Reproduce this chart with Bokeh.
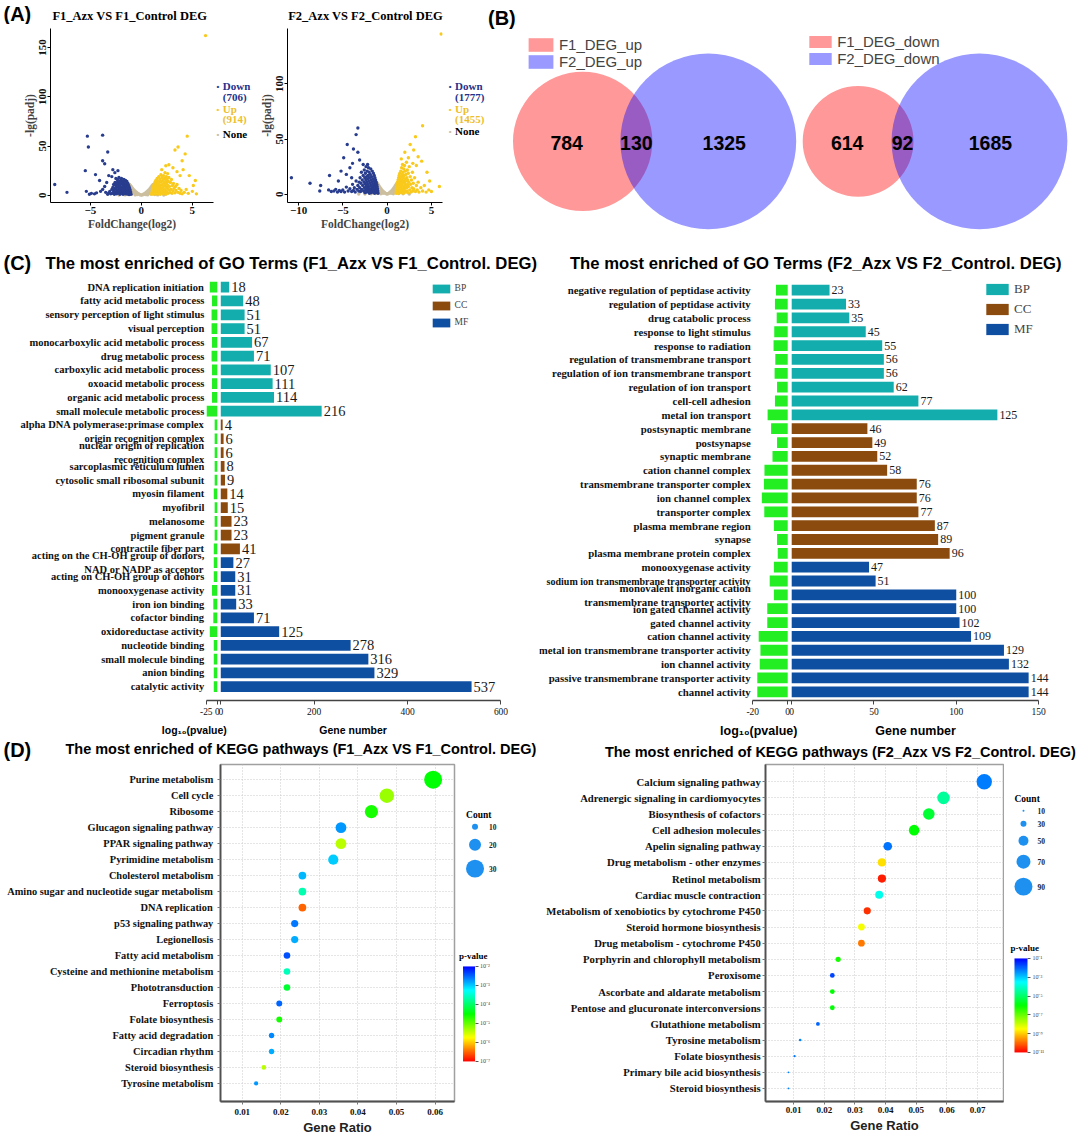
import math
from bokeh.plotting import figure
from bokeh.models import (Range1d, FixedTicker, Label, LabelSet, ColumnDataSource, Legend,
                          LegendItem, ColorBar, LinearColorMapper, LinearAxis, PrintfTickFormatter,
                          AllLabels)
from bokeh.layouts import column, row
from bokeh.embed import file_html
from bokeh.resources import INLINE
from bokeh.core.properties import value

# ======================= DATA =======================
# (A) volcano plots : (log2 fold change, -lg(padj))
F1_NONE = [(0, 0.2), (0.1, 0.4), (-0.1, 0.4), (0.15, 0.8), (-0.15, 0.8), (0.25, 1.3), (-0.25, 1.3),
           (0.35, 2), (-0.35, 2), (0.45, 2.8), (-0.45, 2.8), (0.55, 3.6), (-0.55, 3.6), (0.65, 4.6),
           (-0.65, 4.6), (0.75, 5.8), (-0.75, 5.8), (0.85, 7), (-0.85, 7), (0.95, 8.4), (-0.95, 8.4),
           (1.05, 9.8), (-1.05, 9.8), (1.15, 11), (-1.15, 11), (0.4, 0.8), (-0.4, 0.8), (0.6, 1.5),
           (-0.6, 1.5), (0.7, 2.6), (-0.7, 2.6), (0.8, 3.5), (-0.8, 3.5), (0.9, 4.8), (-0.9, 4.8),
           (1.0, 6), (-1.0, 6), (1.1, 7.5), (-1.1, 7.5), (0.6, 0.4), (-0.6, 0.4), (0.9, 1.2), (-0.9, 1.2),
           (1.1, 2.5), (-1.1, 2.5), (1.2, 4), (-1.2, 4), (1.3, 0.8), (-1.3, 0.8), (1.6, 0.4), (-1.6, 0.4),
           (2.2, 0.3), (-2.2, 0.3)]
F1_DOWN = [(-1.02, 1.0), (-1.05, 2.5), (-1.08, 4.0), (-1.10, 1.5), (-1.12, 6.0), (-1.15, 3.0), (-1.18, 8.0),
           (-1.20, 0.8), (-1.22, 5.0), (-1.25, 10.0), (-1.28, 2.0), (-1.30, 7.0), (-1.32, 12.0), (-1.35, 4.0),
           (-1.38, 9.0), (-1.40, 1.2), (-1.42, 14.0), (-1.45, 6.0), (-1.48, 11.0), (-1.50, 3.0), (-1.52, 8.0),
           (-1.55, 15.0), (-1.58, 1.5), (-1.60, 5.0), (-1.62, 10.0), (-1.65, 13.0), (-1.68, 2.5), (-1.70, 7.0),
           (-1.72, 16.0), (-1.75, 4.0), (-1.78, 11.0), (-1.80, 1.0), (-1.82, 9.0), (-1.85, 14.0), (-1.88, 6.0),
           (-1.90, 3.0), (-1.92, 12.0), (-1.95, 17.0), (-1.98, 8.0), (-2.00, 2.0), (-2.02, 5.0), (-2.05, 15.0),
           (-2.08, 10.0), (-2.10, 1.0), (-2.12, 13.0), (-2.15, 7.0), (-2.18, 3.5), (-2.20, 18.0), (-2.22, 11.0),
           (-2.25, 5.5), (-2.28, 9.0), (-2.30, 2.0), (-2.32, 14.0), (-2.35, 16.0), (-2.38, 4.0), (-2.40, 8.0),
           (-2.42, 12.0), (-2.45, 1.5), (-2.48, 6.0), (-2.50, 17.0), (-2.52, 10.0), (-2.55, 3.0), (-2.58, 13.0),
           (-2.60, 7.0), (-2.65, 1.0), (-2.70, 5.0), (-2.72, 11.0), (-2.75, 3.0), (-2.80, 8.0), (-2.85, 2.0),
           (-2.90, 6.0), (-3.00, 1.5), (-3.10, 4.0), (-3.20, 2.5), (-3.30, 1.0), (-3.50, 3.0),
           (-5.3, 60), (-3.8, 61), (-5.2, 49), (-3.3, 44), (-3.8, 35), (-3.6, 32), (-2.8, 26), (-2.3, 25),
           (-2.6, 23), (-5.5, 25), (-4.5, 21), (-3.2, 20), (-2.9, 19), (-7.3, 3), (-8.5, 11), (-5.4, 4),
           (-4.9, 2), (-4.4, 2.5), (-4.0, 4), (-3.8, 6), (-3.6, 9), (-4.1, 15), (-3.4, 13), (-4.6, 1.5), (-5.1, 1)]
F1_UP = [(1.02, 1), (1.05, 3), (1.08, 5), (1.1, 1.5), (1.12, 7), (1.15, 2.5), (1.18, 9), (1.2, 4), (1.22, 6),
         (1.25, 11), (1.28, 2), (1.3, 8), (1.32, 13), (1.35, 3.5), (1.38, 10), (1.4, 1), (1.42, 15), (1.45, 5),
         (1.48, 12), (1.5, 7), (1.52, 2.5), (1.55, 17), (1.58, 9), (1.6, 4), (1.62, 14), (1.65, 1.5), (1.68, 11),
         (1.7, 6), (1.72, 19), (1.75, 3), (1.78, 13), (1.8, 8), (1.82, 16), (1.85, 1), (1.88, 10), (1.9, 5),
         (1.92, 21), (1.95, 14), (1.98, 2.5), (2.0, 7), (2.02, 18), (2.05, 11), (2.08, 4), (2.1, 15), (2.12, 1.5),
         (2.15, 9), (2.18, 20), (2.2, 6), (2.22, 13), (2.25, 3), (2.28, 17), (2.3, 10), (2.32, 23), (2.35, 5),
         (2.38, 14), (2.4, 1), (2.42, 8), (2.45, 19), (2.48, 12), (2.5, 3.5), (2.52, 16), (2.55, 7), (2.58, 22),
         (2.6, 10), (2.62, 2), (2.65, 14), (2.68, 5.5), (2.7, 18), (2.75, 9), (2.8, 3), (2.85, 13), (2.9, 6),
         (2.95, 16), (3.0, 2), (3.05, 10), (3.1, 4.5), (3.15, 12), (3.2, 7), (3.3, 2.5), (3.35, 9), (3.4, 5),
         (3.5, 11), (3.6, 3), (3.7, 7), (3.8, 2), (3.9, 5), (4.0, 1.5), (4.2, 3), (4.4, 6), (4.6, 2), (5.0, 4),
         (5.4, 1.5), (4.5, 60), (3.6, 49), (3.3, 46), (4.3, 42), (2.7, 31), (3.1, 28), (6.3, 162), (5.3, 15),
         (4.7, 20), (5.1, 10), (4.0, 35), (2.4, 30), (2.0, 26), (3.5, 24), (3.8, 20), (4.1, 26)]
F2_NONE = [(0, 0.2), (0.1, 0.5), (-0.1, 0.5), (0.2, 1.0), (-0.2, 1.0), (0.3, 1.6), (-0.3, 1.6), (0.4, 2.3),
           (-0.4, 2.3), (0.5, 3.1), (-0.5, 3.1), (0.6, 4.0), (-0.6, 4.0), (0.7, 5.0), (-0.7, 5.0), (0.8, 6.2),
           (-0.8, 6.2), (0.9, 7.5), (-0.9, 7.5), (1.0, 8.8), (-1.0, 8.8), (1.1, 10), (-1.1, 10), (0.45, 0.9),
           (-0.45, 0.9), (0.65, 1.8), (-0.65, 1.8), (0.75, 2.8), (-0.75, 2.8), (0.85, 3.9), (-0.85, 3.9),
           (0.95, 5.2), (-0.95, 5.2), (1.05, 6.5), (-1.05, 6.5), (0.7, 0.5), (-0.7, 0.5), (0.95, 1.5),
           (-0.95, 1.5), (1.1, 3), (-1.1, 3), (1.3, 0.7), (-1.3, 0.7), (1.8, 0.4), (-1.8, 0.4), (2.5, 0.3),
           (-2.5, 0.3), (-3.2, 0.3)]
F2_DOWN = [(-1.02, 1), (-1.05, 3), (-1.08, 5), (-1.1, 1.5), (-1.12, 7), (-1.15, 2.5), (-1.18, 9), (-1.2, 4),
           (-1.22, 11), (-1.25, 6), (-1.28, 2), (-1.3, 13), (-1.32, 8), (-1.35, 3.5), (-1.38, 15), (-1.4, 10),
           (-1.42, 1), (-1.45, 17), (-1.48, 5), (-1.5, 12), (-1.52, 7), (-1.55, 19), (-1.58, 2.5), (-1.6, 14),
           (-1.62, 9), (-1.65, 4), (-1.68, 21), (-1.7, 11), (-1.72, 6), (-1.75, 16), (-1.78, 1.5), (-1.8, 13),
           (-1.82, 8), (-1.85, 23), (-1.88, 3), (-1.9, 18), (-1.92, 10), (-1.95, 5), (-1.98, 15), (-2.0, 1),
           (-2.02, 20), (-2.05, 12), (-2.08, 7), (-2.1, 24), (-2.12, 3.5), (-2.15, 17), (-2.18, 9), (-2.2, 14),
           (-2.22, 5.5), (-2.25, 21), (-2.28, 11), (-2.3, 2), (-2.32, 16), (-2.35, 7.5), (-2.38, 25), (-2.4, 13),
           (-2.42, 4), (-2.45, 19), (-2.48, 9.5), (-2.5, 1.5), (-2.52, 15), (-2.55, 6), (-2.58, 22), (-2.6, 11),
           (-2.65, 3), (-2.7, 17), (-2.75, 8), (-2.8, 13), (-2.85, 4.5), (-2.9, 20), (-2.95, 10), (-3.0, 2.5),
           (-3.05, 15), (-3.1, 6), (-3.15, 11), (-3.2, 3), (-3.3, 8), (-3.4, 4.5), (-3.5, 12), (-3.6, 2),
           (-3.7, 6), (-3.8, 3.5), (-3.9, 9), (-4.0, 2.5), (-4.2, 5), (-4.4, 3), (-4.6, 6.5), (-4.8, 2),
           (-5.0, 4), (-5.2, 2.5), (-5.4, 3.5), (-5.6, 2), (-5.8, 4.5), (-6.0, 3), (-6.3, 2.5), (-6.6, 4),
           (-10.8, 15), (-8.7, 10), (-7.5, 8), (-7.6, 3), (-6.5, 17), (-3.3, 60), (-3.5, 54), (-4.5, 45),
           (-3.8, 41), (-3.3, 38), (-4.9, 33), (-2.7, 27), (-5.2, 21), (-4.2, 24), (-3.9, 28), (-4.6, 18),
           (-5.5, 12), (-4.0, 15), (-2.2, 27), (-3.1, 31)]
F2_UP = [(1.02, 1), (1.04, 3), (1.06, 5), (1.08, 1.5), (1.1, 7), (1.12, 2.5), (1.14, 9), (1.16, 4), (1.18, 11),
         (1.2, 6), (1.22, 2), (1.24, 13), (1.26, 8), (1.28, 3.5), (1.3, 15), (1.32, 10), (1.34, 1), (1.36, 17),
         (1.38, 5), (1.4, 12), (1.42, 7), (1.44, 19), (1.46, 2.5), (1.48, 14), (1.5, 9), (1.52, 4), (1.54, 21),
         (1.56, 11), (1.58, 6), (1.6, 16), (1.62, 1.5), (1.64, 24), (1.66, 13), (1.68, 8), (1.7, 18), (1.72, 3),
         (1.74, 27), (1.76, 10), (1.78, 5), (1.8, 20), (1.82, 15), (1.84, 1), (1.86, 12), (1.88, 23), (1.9, 7),
         (1.92, 17), (1.94, 3.5), (1.96, 26), (1.98, 10), (2.0, 14), (2.02, 5.5), (2.05, 21), (2.08, 8), (2.1, 2),
         (2.12, 18), (2.15, 12), (2.18, 29), (2.2, 6), (2.22, 15), (2.25, 3), (2.28, 22), (2.3, 9), (2.32, 13),
         (2.35, 1.5), (2.38, 19), (2.4, 7), (2.45, 11), (2.5, 25), (2.55, 4), (2.6, 16), (2.65, 9), (2.7, 2),
         (2.75, 13), (2.8, 6), (2.85, 20), (2.9, 3), (2.95, 10), (3.0, 5), (3.1, 15), (3.2, 2.5), (3.3, 8),
         (3.4, 4), (3.5, 11), (3.6, 2), (3.8, 6), (4.0, 3), (4.2, 8), (4.4, 2), (4.7, 4), (5.0, 2.5),
         (4.0, 62), (3.2, 52), (2.6, 45), (3.0, 40), (2.0, 38), (3.5, 34), (2.4, 33), (4.5, 20), (5.9, 7),
         (6.1, 145), (3.9, 30), (1.6, 32), (2.9, 28), (4.8, 12), (3.3, 26)]
F1_DEG = {"Down": 706, "Up": 914}
F2_DEG = {"Down": 1777, "Up": 1455}
VOLC1_XTICKS = [-5, 0, 5]
VOLC2_XTICKS = [-10, -5, 0, 5]
VOLC_YTICKS = [0, 50, 100, 150]

# (B) Venn diagrams
VENN_UP = {"F1_only": 784, "both": 130, "F2_only": 1325}
VENN_DOWN = {"F1_only": 614, "both": 92, "F2_only": 1685}
VENN_UP_LABELS = ["F1_DEG_up", "F2_DEG_up"]
VENN_DOWN_LABELS = ["F1_DEG_down", "F2_DEG_down"]

# (C) GO terms
GO1_TERMS = ["DNA replication initiation", "fatty acid metabolic process", "sensory perception of light stimulus",
             "visual perception", "monocarboxylic acid metabolic process", "drug metabolic process",
             "carboxylic acid metabolic process", "oxoacid metabolic process", "organic acid metabolic process",
             "small molecule metabolic process",
             "alpha DNA polymerase:primase complex", "origin recognition complex",
             "nuclear origin of replication\nrecognition complex", "sarcoplasmic reticulum lumen",
             "cytosolic small ribosomal subunit", "myosin filament", "myofibril", "melanosome", "pigment granule",
             "contractile fiber part",
             "acting on the CH-OH group of donors,\nNAD or NADP as acceptor", "acting on CH-OH group of donors",
             "monooxygenase activity", "iron ion binding", "cofactor binding", "oxidoreductase activity",
             "nucleotide binding", "small molecule binding", "anion binding", "catalytic activity"]
GO1_CATS = ["BP"] * 10 + ["CC"] * 10 + ["MF"] * 10
GO1_GENES = [18, 48, 51, 51, 67, 71, 107, 111, 114, 216,
             4, 6, 6, 8, 9, 14, 15, 23, 23, 41,
             27, 31, 31, 33, 71, 125, 278, 316, 329, 537]
GO1_LOGP = [-17, -12, -13, -13, -12, -13, -12, -12, -12, -24,
            -6, -6, -6, -6, -6, -8, -6, -6, -6, -8,
            -8, -8, -12, -9, -9, -17, -8, -8, -8, -8]
GO1_LP_TICKS = [-25, 0]
GO1_GENE_TICKS = [0, 200, 400, 600]

GO2_TERMS = ["negative regulation of peptidase activity", "regulation of peptidase activity",
             "drug catabolic process", "response to light stimulus", "response to radiation",
             "regulation of transmembrane transport", "regulation of ion transmembrane transport",
             "regulation of ion transport", "cell-cell adhesion", "metal ion transport",
             "postsynaptic membrane", "postsynapse", "synaptic membrane", "cation channel complex",
             "transmembrane transporter complex", "ion channel complex", "transporter complex",
             "plasma membrane region", "synapse", "plasma membrane protein complex",
             "monooxygenase activity", "sodium ion transmembrane transporter activity",
             "monovalent inorganic cation\ntransmembrane transporter activity", "ion gated channel activity",
             "gated channel activity", "cation channel activity", "metal ion transmembrane transporter activity",
             "ion channel activity", "passive transmembrane transporter activity", "channel activity"]
GO2_CATS = ["BP"] * 10 + ["CC"] * 10 + ["MF"] * 10
GO2_GENES = [23, 33, 35, 45, 55, 56, 56, 62, 77, 125,
             46, 49, 52, 58, 76, 76, 77, 87, 89, 96,
             47, 51, 100, 100, 102, 109, 129, 132, 144, 144]
GO2_LOGP = [-6.7, -7.3, -6.3, -7.7, -8.1, -7.1, -7.5, -6.1, -7.3, -11.5,
            -9.5, -6.1, -8.7, -13.3, -13.6, -14.8, -13.4, -7.9, -6.1, -5.7,
            -7.9, -10.3, -7.9, -11.7, -11.7, -16.6, -15.6, -16.0, -17.4, -17.4]
GO2_LP_TICKS = [-20, 0]
GO2_GENE_TICKS = [0, 50, 100, 150]
GO_CATEGORIES = ["BP", "CC", "MF"]

# (D) KEGG pathways
KEGG1_PATHWAYS = ["Purine metabolism", "Cell cycle", "Ribosome", "Glucagon signaling pathway",
                  "PPAR signaling pathway", "Pyrimidine metabolism", "Cholesterol metabolism",
                  "Amino sugar and nucleotide sugar metabolism", "DNA replication", "p53 signaling pathway",
                  "Legionellosis", "Fatty acid metabolism", "Cysteine and methionine metabolism",
                  "Phototransduction", "Ferroptosis", "Folate biosynthesis", "Fatty acid degradation",
                  "Circadian rhythm", "Steroid biosynthesis", "Tyrosine metabolism"]
KEGG1_RATIO = [0.0595, 0.0475, 0.0435, 0.0356, 0.0356, 0.0336, 0.0256, 0.0256, 0.0256, 0.0236,
               0.0236, 0.0216, 0.0216, 0.0216, 0.0196, 0.0196, 0.0176, 0.0176, 0.0156, 0.0136]
KEGG1_COUNT = [30, 24, 22, 18, 18, 17, 13, 13, 13, 12, 12, 11, 11, 11, 10, 10, 9, 9, 8, 7]
KEGG1_LOGP = [-4.5, -5.25, -4.6, -2.75, -5.4, -3.0, -2.9, -3.65, -6.5, -2.6,
              -2.85, -2.4, -3.6, -4.25, -2.5, -4.6, -2.67, -2.85, -5.4, -2.75]
KEGG1_XTICKS = [0.01, 0.02, 0.03, 0.04, 0.05, 0.06]
KEGG1_COUNT_LEGEND = [10, 20, 30]
KEGG1_P_TICKS = [-2, -3, -4, -5, -6, -7]

KEGG2_PATHWAYS = ["Calcium signaling pathway", "Adrenergic signaling in cardiomyocytes",
                  "Biosynthesis of cofactors", "Cell adhesion molecules", "Apelin signaling pathway",
                  "Drug metabolism - other enzymes", "Retinol metabolism", "Cardiac muscle contraction",
                  "Metabolism of xenobiotics by cytochrome P450", "Steroid hormone biosynthesis",
                  "Drug metabolism - cytochrome P450", "Porphyrin and chlorophyll metabolism", "Peroxisome",
                  "Ascorbate and aldarate metabolism", "Pentose and glucuronate interconversions",
                  "Glutathione metabolism", "Tyrosine metabolism", "Folate biosynthesis",
                  "Primary bile acid biosynthesis", "Steroid biosynthesis"]
KEGG2_RATIO = [0.0722, 0.0589, 0.0541, 0.0493, 0.0407, 0.0388, 0.0388, 0.0379, 0.0340, 0.0321,
               0.0321, 0.0245, 0.0226, 0.0226, 0.0226, 0.0179, 0.0121, 0.0103, 0.0083, 0.0083]
KEGG2_COUNT = [77, 63, 58, 53, 43, 41, 41, 40, 36, 34, 34, 26, 24, 24, 24, 19, 13, 11, 9, 9]
KEGG2_LOGP = [-2.25, -4.5, -5.5, -6.0, -2.17, -8.8, -10.7, -3.7, -10.5, -8.4,
              -9.8, -6.2, -1.67, -6.0, -6.0, -2.0, -2.3, -2.2, -2.3, -2.3]
KEGG2_XTICKS = [0.01, 0.02, 0.03, 0.04, 0.05, 0.06, 0.07]
KEGG2_COUNT_LEGEND = [10, 30, 50, 70, 90]
KEGG2_P_TICKS = [-1, -3, -5, -7, -9, -11]

# ======================= STYLE / HELPERS =======================
F = 0.999
SERIF = "Liberation Serif"
SANS = "Liberation Sans"
DOWN_C, UP_C, NONE_C = "#293D8F", "#F9C91C", "#CCBF9F"
DOWN_T, UP_T = "#25318A", "#EDBE2B"
CAT_COLORS = {"BP": "#13ADAD", "CC": "#8B4A0E", "MF": "#0F4FA2"}
GREEN = "#22EE22"
NAN = float("nan")


def P(v):
    return int(round(v * F))


def fs(px):
    return "%.2fpx" % (px * F)


def jet_palette(n=256):
    stops = [(255, 0, 0), (255, 255, 0), (0, 255, 0), (0, 255, 255), (0, 0, 255)]
    out = []
    for i in range(n):
        t = i / (n - 1) * (len(stops) - 1)
        j = min(int(t), len(stops) - 2)
        f = t - j
        c = [int(round(stops[j][m] + (stops[j + 1][m] - stops[j][m]) * f)) for m in range(3)]
        out.append("#%02x%02x%02x" % tuple(c))
    return out


JET = jet_palette()
SUP = str.maketrans("-0123456789", "\u207b\u2070\u00b9\u00b2\u00b3\u2074\u2075\u2076\u2077\u2078\u2079")


def pow10(e):
    return "10" + str(e).translate(SUP)


def make_fig(cx0, cx1, cy0, cy1, fx0, fx1, fy0, fy1, axes=True):
    kw = {} if axes else dict(x_axis_type=None, y_axis_type=None)
    p = figure(width=P(cx1) - P(cx0), height=P(cy1) - P(cy0), title=None,
               min_border_left=P(fx0) - P(cx0), min_border_right=P(cx1) - P(fx1),
               min_border_top=P(fy0) - P(cy0), min_border_bottom=P(cy1) - P(fy1),
               toolbar_location=None, tools="", output_backend="svg", **kw)
    p.outline_line_color = None
    p.border_fill_color = "white"
    p.background_fill_color = "white"
    return p, (P(fx0) / F, P(fx1) / F, P(fy0) / F, P(fy1) / F)


def strip(cx0, cx1, cy0, cy1):
    p, fr = make_fig(cx0, cx1, cy0, cy1, cx0, cx1, cy0, cy1, axes=False)
    p.x_range = Range1d(fr[0], fr[1])
    p.y_range = Range1d(fr[3], fr[2])
    return p


def add_label(p, c0, x, y, text, size, font=SANS, style="bold", color="black", align="left"):
    p.add_layout(Label(x=x * F - P(c0[0]), y=y * F - P(c0[1]), x_units="canvas", y_units="canvas",
                       text=text, text_font=font, text_font_style=style, text_font_size=fs(size),
                       text_color=color, text_align=align, text_baseline="middle"))


def style_axis(ax, tick_size, font=SERIF, bold=True, line_color="black", lw=1):
    ax.axis_line_color = line_color
    ax.axis_line_width = lw
    ax.major_tick_line_color = line_color
    ax.major_tick_out = 3
    ax.major_tick_in = 0
    ax.minor_tick_line_color = None
    ax.major_label_text_font = font
    ax.major_label_text_font_style = "bold" if bold else "normal"
    ax.major_label_text_font_size = fs(tick_size)
    ax.major_label_text_color = "#111111"


# ======================= (A) VOLCANO =======================
A_TOP, A_FT, A_FB, A_BOT = 24, 28, 202, 245


def volcano(cx0, cx1, fx0, fx1, xmap, ymap, xticks, none, down, up):
    p, fr = make_fig(cx0, cx1, A_TOP, A_BOT, fx0, fx1, A_FT, A_FB)
    a, k = xmap
    b, m = ymap
    p.x_range = Range1d((fr[0] - a) / k, (fr[1] - a) / k)
    p.y_range = Range1d((b - fr[3]) / m, (b - fr[2]) / m)
    p.grid.visible = False
    for pts, col in ((none, NONE_C), (down, DOWN_C), (up, UP_C)):
        xs, ys = zip(*pts)
        p.scatter(x=list(xs), y=list(ys), size=3.4 * F, fill_color=col, line_color=None)
    p.xaxis.ticker = FixedTicker(ticks=xticks, minor_ticks=[])
    p.yaxis.ticker = FixedTicker(ticks=VOLC_YTICKS, minor_ticks=[])
    for ax in (p.xaxis[0], p.yaxis[0]):
        style_axis(ax, 11)
        ax.axis_label_text_font = SERIF
        ax.axis_label_text_font_style = "bold"
        ax.axis_label_text_font_size = fs(11.5)
        ax.major_label_standoff = 1
        ax.axis_label_standoff = 1
    p.yaxis.major_label_orientation = "vertical"
    p.xaxis.axis_label = "FoldChange(log2)"
    p.yaxis.axis_label = "-lg(padj)"
    return p


def volcano_legend(cx0, cx1, deg, dot_x, ys):
    p = strip(cx0, cx1, A_TOP, A_BOT)
    p.min_border_top = P(A_FT) - P(A_TOP)
    p.min_border_bottom = P(A_BOT) - P(A_FB)
    c0 = (cx0, A_TOP)
    entries = [("Down", DOWN_T), ("(%d)" % deg["Down"], DOWN_T), ("Up", UP_T),
               ("(%d)" % deg["Up"], UP_T), ("None", "black")]
    for (txt, col), yy in zip(entries, ys):
        add_label(p, c0, dot_x + 5, yy, txt, 11, font=SERIF, color=col)
    for col, yy in ((DOWN_C, ys[0]), (UP_C, ys[2]), (NONE_C, ys[4])):
        add_label(p, c0, dot_x, yy, "\u2022", 8, color=col, align="center")
    return p


v1 = volcano(0, 215, 50, 213, (141, 10.2), (195, 0.9867), VOLC1_XTICKS, F1_NONE, F1_DOWN, F1_UP)
l1 = volcano_legend(215, 253, F1_DEG, 217.5, [86, 97, 109, 119, 134])
v2 = volcano(253, 444, 287.5, 442, (387, 8.87), (194, 1.107), VOLC2_XTICKS, F2_NONE, F2_DOWN, F2_UP)
l2 = volcano_legend(444, 487, F2_DEG, 450, [86, 97, 109, 119, 131])
sA = strip(0, 487, 0, A_TOP)
add_label(sA, (0, 0), 3, 14, "(A)", 20)
add_label(sA, (0, 0), 52, 16, "F1_Azx VS F1_Control DEG", 12.5, font=SERIF)
add_label(sA, (0, 0), 288, 16, "F2_Azx VS F2_Control DEG", 12.5, font=SERIF)

# ======================= (B) VENN =======================
pv = strip(487, 1080, 0, 245)
R_BIG = 88.0


def venn(vals, names, left_edge, overlap, cy, leg_box):
    n1 = vals["F1_only"] + vals["both"]
    n2 = vals["F2_only"] + vals["both"]
    nmax = max(n1, n2)
    r1 = R_BIG * math.sqrt(n1 / nmax)
    r2 = R_BIG * math.sqrt(n2 / nmax)
    c1 = left_edge + r1
    c2 = c1 + r1 + r2 - overlap
    pv.ellipse(x=[c1], y=[cy], width=[2 * r1], height=[2 * r1], fill_color="#FF0000", fill_alpha=0.4,
               line_color=None)
    pv.ellipse(x=[c2], y=[cy], width=[2 * r2], height=[2 * r2], fill_color="#0000FF", fill_alpha=0.4,
               line_color=None)
    a = c2 - r2
    b = c1 + r1
    xs = [(left_edge + a) / 2, (a + b) / 2, (b + c2 + r2) / 2]
    pv.text(x=xs, y=[cy + 2] * 3, text=[str(vals[k]) for k in ("F1_only", "both", "F2_only")],
            text_align="center", text_baseline="middle", text_font=value(SANS),
            text_font_style=value("bold"), text_font_size=fs(19.5), text_color="black")
    q1 = pv.quad(left=[NAN], right=[NAN], top=[NAN], bottom=[NAN], fill_color="#FF0000", fill_alpha=0.4,
                 line_color=None)
    q2 = pv.quad(left=[NAN], right=[NAN], top=[NAN], bottom=[NAN], fill_color="#0000FF", fill_alpha=0.4,
                 line_color=None)
    bx, by, gw, gh = leg_box
    fr0, fr3 = P(487) / F, P(245) / F
    leg = Legend(items=[LegendItem(label=names[0], renderers=[q1]), LegendItem(label=names[1], renderers=[q2])],
                 location=((bx - fr0) * F, (fr3 - (by + 2 * gh)) * F),
                 glyph_width=int(round(gw * F)), glyph_height=int(round(gh * F)), label_height=int(round(gh * F)),
                 spacing=0, padding=0, margin=0, label_standoff=3, border_line_color=None,
                 background_fill_alpha=0, label_text_font=SANS, label_text_font_size=fs(15))
    pv.add_layout(leg)


venn(VENN_UP, VENN_UP_LABELS, 513, 32, 141, (525.5, 36, 31.5, 17))
venn(VENN_DOWN, VENN_DOWN_LABELS, 803, 22, 141, (807, 36, 28, 15.5))
add_label(pv, (487, 0), 488, 18, "(B)", 20)

row1 = row(column(sA, row(v1, l1, v2, l2)), pv)

# ======================= (C) GO BAR CHARTS =======================
C_TOP, C_FT, C_FB, C_BOT = 276, 278, 701, 722


def go_chart(cx0, cx1, gmap, lmap, rmap, terms, cats, genes, logp, lp_ticks, gene_ticks,
             lab_x, val_size, lab_size, tick_size, leg):
    p, fr = make_fig(cx0, cx1, C_TOP, C_BOT, cx0, cx1, C_FT, C_FB, axes=False)
    ga, gk = gmap
    la, lk = lmap
    r0, rp = rmap
    p.x_range = Range1d((fr[0] - ga) / gk, (fr[1] - ga) / gk)
    p.extra_x_ranges = {"lp": Range1d((fr[0] - la) / lk, (fr[1] - la) / lk)}
    p.y_range = Range1d((fr[3] - r0) / rp, (fr[2] - r0) / rp)
    rows = list(range(len(terms)))
    rend = {}
    for cat in GO_CATEGORIES:
        idx = [i for i, c in enumerate(cats) if c == cat]
        src = ColumnDataSource(dict(y=[rows[i] for i in idx], right=[genes[i] for i in idx]))
        rend[cat] = p.hbar(y="y", left=0, right="right", height=0.78, source=src,
                           fill_color=CAT_COLORS[cat], line_color=None)
    gsrc = ColumnDataSource(dict(y=rows, left=logp))
    p.hbar(y="y", left="left", right=0, height=0.78, source=gsrc, x_range_name="lp",
           fill_color=GREEN, line_color=None)
    vsrc = ColumnDataSource(dict(x=genes, y=rows, t=[str(g) for g in genes]))
    p.text(x="x", y="y", text="t", source=vsrc, x_offset=2, text_align="left", text_baseline="middle",
           text_font=value(SERIF), text_font_size=fs(val_size), text_color="#1a1a1a")
    ly, lt, lsz = [], [], []
    for i, n in enumerate(terms):
        parts = n.split("\n")
        if len(parts) == 1:
            ly.append(i)
            lt.append(n)
        else:
            ly += [i - 0.5, i + 0.5]
            lt += parts
    # very long single labels get a slightly smaller font so they stay inside the panel
    lsz = [fs(lab_size * 0.93) if len(t) > 44 else fs(lab_size) for t in lt]
    lsrc = ColumnDataSource(dict(x=[(lab_x - ga) / gk] * len(ly), y=ly, t=lt, sz=lsz))
    p.add_layout(LabelSet(x="x", y="y", text="t", source=lsrc, text_align="right", text_baseline="middle",
                          text_font=value(SERIF), text_font_style=value("bold"),
                          text_font_size="sz", text_color="#111111"))
    lp_pos = [(la + lk * L - ga) / gk for L in lp_ticks]
    ticks = lp_pos + list(gene_ticks)
    overrides = {t: str(v) for t, v in zip(ticks, list(lp_ticks) + list(gene_ticks))}
    ax = LinearAxis(ticker=FixedTicker(ticks=ticks, minor_ticks=[]), major_label_overrides=overrides,
                    bounds=(ticks[0], ticks[-1]))
    style_axis(ax, tick_size, bold=False, line_color="#444444", lw=1.3)
    ax.major_tick_out = 4
    ax.major_label_standoff = 3
    p.add_layout(ax, "below")
    bx, by, gw, gh, sp, lsize = leg
    height = 3 * gh + 2 * sp
    legend = Legend(items=[LegendItem(label=c, renderers=[rend[c]]) for c in GO_CATEGORIES],
                    location=((bx - fr[0]) * F, (fr[3] - (by + height)) * F),
                    glyph_width=int(round(gw * F)), glyph_height=int(round(gh * F)),
                    label_height=int(round(gh * F)), spacing=int(round(sp * F)), padding=0, margin=0,
                    label_standoff=3, border_line_color=None, background_fill_alpha=0,
                    label_text_font=SERIF, label_text_font_size=fs(lsize))
    p.add_layout(legend)
    return p


goL = go_chart(0, 540, (220.5, 0.4675), (217, 0.44), (287, 13.79),
               GO1_TERMS, GO1_CATS, GO1_GENES, GO1_LOGP, GO1_LP_TICKS, GO1_GENE_TICKS,
               204, 14.5, 10.5, 9.5, (430, 283, 22, 11, 6, 9.5))
goR = go_chart(540, 1080, (792, 1.647), (788, 1.75), (290, 13.862),
               GO2_TERMS, GO2_CATS, GO2_GENES, GO2_LOGP, GO2_LP_TICKS, GO2_GENE_TICKS,
               751, 12, 10.8, 9.5, (984, 287, 28, 14, 4, 13))

sC = strip(0, 1080, 245, C_TOP)
add_label(sC, (0, 245), 3, 263, "(C)", 20)
add_label(sC, (0, 245), 45, 263, "The most enriched of GO Terms (F1_Azx VS F1_Control. DEG)", 16.7)
add_label(sC, (0, 245), 570, 263, "The most enriched of GO Terms (F2_Azx VS F2_Control. DEG)", 16.7)
sC2 = strip(0, 1080, C_BOT, 739)
for txt, x, size in (("log\u2081\u2080(pvalue)", 194, 10.5), ("Gene number", 353, 10.5),
                     ("log\u2081\u2080(pvalue)", 759, 12.5), ("Gene number", 916, 12.5)):
    add_label(sC2, (0, C_BOT), x, 731, txt, size, align="center")

# ======================= (D) KEGG DOT PLOTS =======================
sD = strip(0, 1080, 739, 762)
add_label(sD, (0, 739), 3, 750, "(D)", 20)
add_label(sD, (0, 739), 65, 749, "The most enriched of KEGG pathways (F1_Azx VS F1_Control. DEG)", 14.5)
add_label(sD, (0, 739), 605, 752, "The most enriched of KEGG pathways (F2_Azx VS F2_Control. DEG)", 14.5)

D_TOP, D_FT, D_FB, D_BOT = 762, 765, 1102, 1142


def kegg(cx0, cx1, fx0, fx1, xmap, rmap, ratio, count, logp, mapper, size_k, xticks, tick_standoff):
    p, fr = make_fig(cx0, cx1, D_TOP, D_BOT, fx0, fx1, D_FT, D_FB)
    a, k = xmap
    r0, rp = rmap
    p.x_range = Range1d((fr[0] - a) / k, (fr[1] - a) / k)
    p.y_range = Range1d((fr[3] - r0) / rp, (fr[2] - r0) / rp)
    rows = list(range(len(ratio)))
    p.xaxis.ticker = FixedTicker(ticks=xticks, minor_ticks=[])
    p.xaxis.formatter = PrintfTickFormatter(format="%.2f")
    p.yaxis.ticker = FixedTicker(ticks=rows, minor_ticks=[])
    p.yaxis.major_label_overrides = {i: "" for i in rows}
    for ax in (p.xaxis[0], p.yaxis[0]):
        style_axis(ax, 9, line_color="#505050", lw=1.8)
        ax.major_tick_line_color = "#777777"
    p.yaxis.major_label_standoff = 0
    p.xaxis.major_label_standoff = tick_standoff
    p.xaxis.axis_label = "Gene Ratio"
    p.xaxis.axis_label_text_font = SANS
    p.xaxis.axis_label_text_font_style = "bold"
    p.xaxis.axis_label_text_font_size = fs(13)
    p.xaxis.axis_label_standoff = 2
    p.xaxis.axis_label_text_color = "#222222"
    for g in (p.xgrid[0], p.ygrid[0]):
        g.grid_line_color = "#c4c4c4"
        g.grid_line_dash = "1 2"
        g.grid_line_width = 0.9
    p.outline_line_color = "#a0a0a0"
    p.outline_line_width = 1.5
    src = ColumnDataSource(dict(x=ratio, y=rows, s=[c * size_k * F for c in count], lp=logp))
    p.scatter(x="x", y="y", size="s", source=src, fill_color={"field": "lp", "transform": mapper},
              line_color=None)
    return p


def kegg_labels(cx0, cx1, names, yrange, lab_x, size):
    p, fr = make_fig(cx0, cx1, D_TOP, D_BOT, cx0, cx1, D_FT, D_FB, axes=False)
    p.x_range = Range1d(fr[0], fr[1])
    p.y_range = yrange
    lsrc = ColumnDataSource(dict(x=[lab_x] * len(names), y=list(range(len(names))), t=names))
    p.add_layout(LabelSet(x="x", y="y", text="t", source=lsrc, text_align="right", text_baseline="middle",
                          text_font=value(SERIF), text_font_style=value("bold"), text_font_size=fs(size),
                          text_color="#111111"))
    return p


def kegg_legend(cx0, cx1, counts, size_k, circ_x, y0, lab_x, count_xy, mapper, p_ticks, bar):
    p, fr = make_fig(cx0, cx1, D_TOP, D_BOT, cx0, cx1, D_FT, D_FB, axes=False)
    p.x_range = Range1d(fr[0], fr[1])
    p.y_range = Range1d(fr[3], fr[2])
    ds = [c * size_k for c in counts]
    ys = [y0]
    for i in range(1, len(ds)):
        ys.append(ys[-1] + (ds[i - 1] + ds[i]) / 2 + 9)
    p.scatter(x=[circ_x] * len(ds), y=ys, size=[d * F for d in ds], fill_color="#1E90F0", line_color=None)
    p.text(x=[lab_x] * len(ds), y=ys, text=[str(c) for c in counts], text_align="left",
           text_baseline="middle", text_font=value(SERIF), text_font_style=value("bold"),
           text_font_size=fs(7.5), text_color="#222222")
    add_label(p, (cx0, D_TOP), count_xy[0], count_xy[1], "Count", 9.5, font=SERIF)
    bx, bbottom, bw, bh = bar
    add_label(p, (cx0, D_TOP), bx - 4, bbottom - bh - 11, "p-value", 9, font=SERIF)
    cb = ColorBar(color_mapper=mapper, ticker=FixedTicker(ticks=p_ticks, minor_ticks=[]),
                  major_label_overrides={t: pow10(t) for t in p_ticks},
                  major_label_policy=AllLabels(),
                  width=int(round(bw * F)), height=int(round(bh * F)),
                  location=((bx - fr[0]) * F, (fr[3] - bbottom) * F), padding=0, margin=0,
                  major_label_text_font=SERIF, major_label_text_font_size=fs(6),
                  major_tick_in=0, major_tick_out=3, major_tick_line_color="#555555",
                  minor_tick_line_color=None, bar_line_color=None, border_line_color=None,
                  background_fill_alpha=0, label_standoff=2)
    p.add_layout(cb)
    return p


map1 = LinearColorMapper(palette=JET, low=min(KEGG1_P_TICKS), high=max(KEGG1_P_TICKS))
map2 = LinearColorMapper(palette=JET, low=min(KEGG2_P_TICKS), high=max(KEGG2_P_TICKS))

kL = kegg(216, 456, 220, 454, (203.4, 3860.0), (780, 16.0), KEGG1_RATIO, KEGG1_COUNT, KEGG1_LOGP,
          map1, 0.6, KEGG1_XTICKS, 4)
kLl = kegg_labels(0, 216, KEGG1_PATHWAYS, kL.y_range, 213, 10.4)
lL = kegg_legend(456, 540, KEGG1_COUNT_LEGEND, 0.6, 475, 827, 489, (466, 815), map1, KEGG1_P_TICKS,
                 (463, 1062, 12, 95))
kR = kegg(762, 1005, 766, 1004, (763.33, 3066.7), (782, 16.16), KEGG2_RATIO, KEGG2_COUNT, KEGG2_LOGP,
          map2, 0.2, KEGG2_XTICKS, 2)
kRl = kegg_labels(540, 762, KEGG2_PATHWAYS, kR.y_range, 761, 10.7)
lR = kegg_legend(1005, 1080, KEGG2_COUNT_LEGEND, 0.2, 1024, 811, 1038, (1015, 799), map2, KEGG2_P_TICKS,
                 (1015, 1053, 13, 94))

layout = column(row1, sC, row(goL, goR), sC2, sD, row(kLl, kL, lL, kRl, kR, lR))
open("out.html", "w").write(file_html(layout, INLINE))
